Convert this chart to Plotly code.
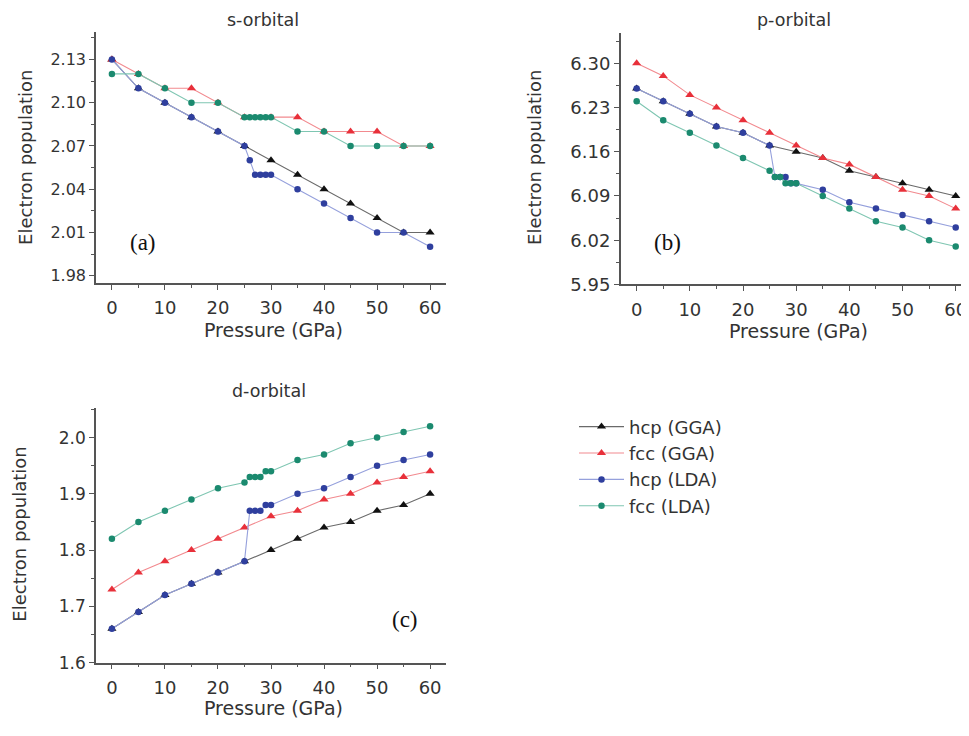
import plotly.graph_objects as go

# page body has an 8px margin: the figure starts at (8, 8) in the window
OFF = 8
W, H = 969 - OFF, 736 - OFF

# ---------------- data ----------------
pressure_gga = [0, 5, 10, 15, 20, 25, 30, 35, 40, 45, 50, 55, 60]
pressure_lda = [0, 5, 10, 15, 20, 25, 26, 27, 28, 29, 30, 35, 40, 45, 50, 55, 60]

series_names = ["hcp (GGA)", "fcc (GGA)", "hcp (LDA)", "fcc (LDA)"]

# s-orbital
s_hcp_gga = [2.13, 2.11, 2.10, 2.09, 2.08, 2.07, 2.06, 2.05, 2.04, 2.03, 2.02, 2.01, 2.01]
s_fcc_gga = [2.13, 2.12, 2.11, 2.11, 2.10, 2.09, 2.09, 2.09, 2.08, 2.08, 2.08, 2.07, 2.07]
s_hcp_lda = [2.13, 2.11, 2.10, 2.09, 2.08, 2.07, 2.06, 2.05, 2.05, 2.05, 2.05, 2.04, 2.03, 2.02, 2.01, 2.01, 2.00]
s_fcc_lda = [2.12, 2.12, 2.11, 2.10, 2.10, 2.09, 2.09, 2.09, 2.09, 2.09, 2.09, 2.08, 2.08, 2.07, 2.07, 2.07, 2.07]

# p-orbital
p_hcp_gga = [6.26, 6.24, 6.22, 6.20, 6.19, 6.17, 6.16, 6.15, 6.13, 6.12, 6.11, 6.10, 6.09]
p_fcc_gga = [6.30, 6.28, 6.25, 6.23, 6.21, 6.19, 6.17, 6.15, 6.14, 6.12, 6.10, 6.09, 6.07]
p_hcp_lda = [6.26, 6.24, 6.22, 6.20, 6.19, 6.17, 6.12, 6.12, 6.12, 6.11, 6.11, 6.10, 6.08, 6.07, 6.06, 6.05, 6.04]
p_fcc_lda = [6.24, 6.21, 6.19, 6.17, 6.15, 6.13, 6.12, 6.12, 6.11, 6.11, 6.11, 6.09, 6.07, 6.05, 6.04, 6.02, 6.01]

# d-orbital
d_hcp_gga = [1.66, 1.69, 1.72, 1.74, 1.76, 1.78, 1.80, 1.82, 1.84, 1.85, 1.87, 1.88, 1.90]
d_fcc_gga = [1.73, 1.76, 1.78, 1.80, 1.82, 1.84, 1.86, 1.87, 1.89, 1.90, 1.92, 1.93, 1.94]
d_hcp_lda = [1.66, 1.69, 1.72, 1.74, 1.76, 1.78, 1.87, 1.87, 1.87, 1.88, 1.88, 1.90, 1.91, 1.93, 1.95, 1.96, 1.97]
d_fcc_lda = [1.82, 1.85, 1.87, 1.89, 1.91, 1.92, 1.93, 1.93, 1.93, 1.94, 1.94, 1.96, 1.97, 1.99, 2.00, 2.01, 2.02]

panel_titles = ["s-orbital", "p-orbital", "d-orbital"]
panel_labels = ["(a)", "(b)", "(c)"]
x_title = "Pressure (GPa)"
y_title = "Electron population"

# ---------------- style ----------------
FONT = "DejaVu Sans"
TXT = "#333333"
AX = "#555555"
marker_colors = ["#111111", "#e8303a", "#2f3f9e", "#1b8a6f"]
line_colors = ["#6a6a6a", "#f28a8f", "#95a0dc", "#7fc6b2"]
symbols = ["triangle-up", "triangle-up", "circle", "circle"]
msizes = [8, 8, 6.5, 6.5]


def px_x(p):
    return (p - OFF) / W


def px_y(p):
    return 1 - (p - OFF) / H


panels = [
    dict(data=[s_hcp_gga, s_fcc_gga, s_hcp_lda, s_fcc_lda],
         xdom=[px_x(96), px_x(446)], ydom=[px_y(286.7), px_y(32)],
         xr=[-3, 63], yr=[1.975, 2.1493], dtick=0.03, tick0=1.98, fmt=".2f", yfs=16),
    dict(data=[p_hcp_gga, p_fcc_gga, p_hcp_lda, p_fcc_lda],
         xdom=[px_x(620.7), 1.0], ydom=[px_y(288.3), px_y(33.3)],
         xr=[-3, 62.5], yr=[5.95, 6.348], dtick=0.07, tick0=5.95, fmt=".2f", yfs=18),
    dict(data=[d_hcp_gga, d_fcc_gga, d_hcp_lda, d_fcc_lda],
         xdom=[px_x(96), px_x(446)], ydom=[px_y(671.7), px_y(413.3)],
         xr=[-3, 63], yr=[1.6, 2.053], dtick=0.1, tick0=1.6, fmt=".1f", yfs=17),
]

fig = go.Figure()
layout = dict(
    width=W, height=H,
    margin=dict(l=0, r=0, t=0, b=0),
    paper_bgcolor="white", plot_bgcolor="white",
    font=dict(family=FONT, size=16, color=TXT),
    showlegend=True,
    legend=dict(x=px_x(574), y=px_y(414), xanchor="left", yanchor="top",
                font=dict(family=FONT, size=18, color=TXT),
                bgcolor="rgba(0,0,0,0)", itemwidth=45, tracegroupgap=0),
)

annotations = []
for i, pn in enumerate(panels):
    sfx = "" if i == 0 else str(i + 1)
    xa, ya = "x" + sfx, "y" + sfx
    for k in range(4):
        xs = pressure_gga if k < 2 else pressure_lda
        fig.add_trace(go.Scatter(
            x=xs, y=pn["data"][k], xaxis=xa, yaxis=ya,
            mode="lines+markers", name=series_names[k],
            legendgroup=series_names[k], showlegend=(i == 0),
            line=dict(color=line_colors[k], width=1.1),
            marker=dict(symbol=symbols[k], size=msizes[k], color=marker_colors[k],
                        line=dict(width=0)),
        ))
    common = dict(showline=True, linecolor=AX, linewidth=1.5, ticks="outside",
                  ticklen=5, tickwidth=1.2, tickcolor=AX, showgrid=False,
                  zeroline=False, mirror=False)
    layout["xaxis" + sfx] = dict(
        common, domain=pn["xdom"], range=pn["xr"], anchor=ya,
        tick0=0, dtick=10, tickfont=dict(family=FONT, size=18, color=TXT),
        ticklabelstandoff=3,
        minor=dict(ticks="outside", ticklen=3, tickcolor=AX, dtick=5, tick0=0))
    layout["yaxis" + sfx] = dict(
        common, domain=pn["ydom"], range=pn["yr"], anchor=xa,
        tick0=pn["tick0"], dtick=pn["dtick"], tickformat=pn["fmt"],
        tickfont=dict(family=FONT, size=pn["yfs"], color=TXT),
        minor=dict(ticks="outside", ticklen=3, tickcolor=AX,
                   dtick=pn["dtick"] / 2, tick0=pn["tick0"]))

# titles, axis titles, panel labels (reference-window pixel positions)
title_pos = [(263, 20), (794, 20), (269, 396)]
xt_pos = [(273, 334), (798, 335), (273, 718)]
yt_pos = [(26, 160), (535, 160), (20, 542)]
lab_pos = [(143, 246), (667, 246), (405, 628)]


def ann(text, pos, size, family=FONT, color=TXT, angle=0, pad=1):
    return dict(text=text, x=px_x(pos[0]), y=px_y(pos[1]), xref="paper", yref="paper",
                xanchor="center", yanchor="middle", showarrow=False, textangle=angle,
                borderpad=0, font=dict(family=family, size=size, color=color))


for i in range(3):
    annotations.append(ann(panel_titles[i], title_pos[i], 17.5))
    annotations.append(ann(x_title, xt_pos[i], 19))
    annotations.append(ann(y_title, yt_pos[i], 18, angle=-90))
    annotations.append(ann(panel_labels[i], lab_pos[i], 23, family="Liberation Serif", color="#111111"))

layout["annotations"] = annotations
fig.update_layout(**layout)
fig.write_html("out.html")
